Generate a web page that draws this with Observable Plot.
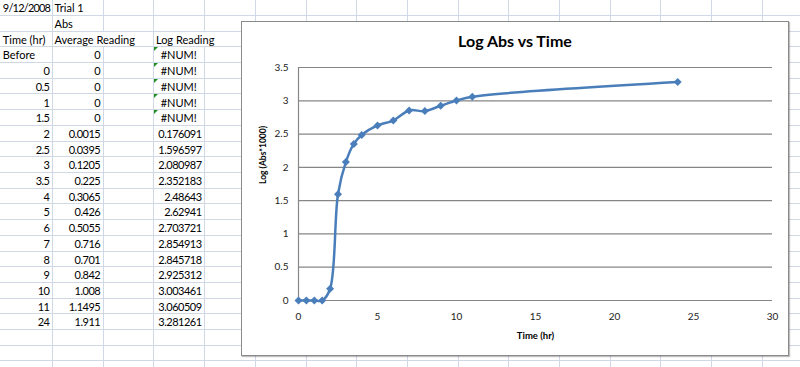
<!DOCTYPE html>
<html><head><meta charset="utf-8">
<script src="https://cdn.jsdelivr.net/npm/d3@7"></script>
<script src="https://cdn.jsdelivr.net/npm/@observablehq/plot@0.6"></script>
<style>
html,body{margin:0;padding:0;background:#fff;}
body{width:800px;height:367px;overflow:hidden;position:relative;font-family:Lato,"Liberation Sans",sans-serif;}
.cell{position:absolute;font-size:11px;color:#000;white-space:nowrap;line-height:14px;}
.num{letter-spacing:-0.5px;}
.date{letter-spacing:-0.8px;}
#chart{position:absolute;left:241px;top:21px;width:548px;height:335px;border:1px solid #8a8a8a;box-sizing:border-box;background:#fff;box-shadow:1px 1px 1px rgba(0,0,0,0.25);}
#chart svg{position:absolute;left:0;top:0;}
#title{position:absolute;left:0;top:9px;width:546px;text-align:center;font:bold 16px Lato,"Liberation Sans",sans-serif;color:#000;}
</style></head><body>
<svg id="grid" width="800" height="367" style="position:absolute;left:0;top:0"></svg>
<div id="cells"></div>
<div id="chart"><div id="title">Log Abs vs Time</div></div>
<script>
// ---- spreadsheet data ----
const dateLabel = "9/12/2008";
const trialLabel = "Trial 1";
const absLabel = "Abs";
const colHeaders = ["Time (hr)", "Average Reading", "Log Reading"];
const timeLabels = ["Before", "0", "0.5", "1", "1.5", "2", "2.5", "3", "3.5", "4", "5", "6", "7", "8", "9", "10", "11", "24"];
const avgReading = ["0", "0", "0", "0", "0", "0.0015", "0.0395", "0.1205", "0.225", "0.3065", "0.426", "0.5055", "0.716", "0.701", "0.842", "1.008", "1.1495", "1.911"];
const logReading = ["#NUM!", "#NUM!", "#NUM!", "#NUM!", "#NUM!", "0.176091", "1.596597", "2.080987", "2.352183", "2.48643", "2.62941", "2.703721", "2.854913", "2.845718", "2.925312", "3.003461", "3.060509", "3.281261"];

// ---- chart series (Excel plots #NUM! as 0; "Before" row not in series) ----
const chartTime = [0, 0.5, 1, 1.5, 2, 2.5, 3, 3.5, 4, 5, 6, 7, 8, 9, 10, 11, 24];
const chartLog = [0, 0, 0, 0, 0.176091, 1.596597, 2.080987, 2.352183, 2.48643, 2.62941, 2.703721, 2.854913, 2.845718, 2.925312, 3.003461, 3.060509, 3.281261];
const xTicks = [0, 5, 10, 15, 20, 25, 30];
const yTicks = [0, 0.5, 1, 1.5, 2, 2.5, 3, 3.5];

// ---- spreadsheet grid ----
const colW = 50.7, col0 = 52 - 50.7; // column left edges
const rowH = 15.7, row0 = 15 - 15.7;  // row top edges
const colLeft = c => col0 + c * colW;
const rowTop = r => row0 + r * rowH;
const grid = d3.select("#grid");
const gridColor = "#d0d7e5";
for (let r = 1; r <= 23; r++) {
  const y = Math.round(rowTop(r)) + 0.5;
  grid.append("line").attr("x1", 0).attr("x2", 800).attr("y1", y).attr("y2", y).attr("stroke", gridColor);
}
for (let c = 1; c <= 16; c++) {
  const x = Math.round(colLeft(c)) + 0.5;
  const skip = (c === 2 || c === 4);
  if (skip) {
    grid.append("line").attr("x1", x).attr("x2", x).attr("y1", 0).attr("y2", rowTop(2)).attr("stroke", gridColor);
    grid.append("line").attr("x1", x).attr("x2", x).attr("y1", rowTop(3)).attr("y2", 367).attr("stroke", gridColor);
  } else {
    grid.append("line").attr("x1", x).attr("x2", x).attr("y1", 0).attr("y2", 367).attr("stroke", gridColor);
  }
}

const cells = d3.select("#cells");
function cell(text, c, r, align, cls) {
  const d = cells.append("div").attr("class", "cell" + (cls ? " " + cls : "")).text(text);
  const top = rowTop(r) + 2;
  if (align === "left") d.style("left", (colLeft(c) + (c === 0 ? 1.5 : 2.5)) + "px").style("top", top + "px");
  else if (align === "right") d.style("left", (colLeft(c)) + "px").style("width", (colW - 2.5) + "px").style("text-align", "right").style("top", top + "px");
  else d.style("left", colLeft(c) + "px").style("width", colW + "px").style("text-align", "center").style("top", top + "px");
}
cell(dateLabel, 0, 0, "left", "date");
cell(trialLabel, 1, 0, "left");
cell(absLabel, 1, 1, "left");
cell(colHeaders[0], 0, 2, "left");
cell(colHeaders[1], 1, 2, "left");
cell(colHeaders[2], 3, 2, "left");
timeLabels.forEach((t, i) => {
  const r = 3 + i;
  const isNum = !isNaN(+t);
  cell(t, 0, r, isNum ? "right" : "left", isNum ? "num" : "");
  cell(avgReading[i], 1, r, "right", "num");
  const v = logReading[i];
  if (v === "#NUM!") {
    cell(v, 3, r, "center");
    const x = Math.round(colLeft(3)) + 1, y = Math.round(rowTop(r)) + 1;
    grid.append("path").attr("d", `M${x},${y}h4l-4,4z`).attr("fill", "#1f8f1f");
  } else cell(v, 3, r, "right", "num");
});

// ---- chart ----
const series = chartTime.map((t, i) => ({t, v: chartLog[i]}));
const axisColor = "#868686";
const plot = Plot.plot({
  width: 546, height: 333,
  marginLeft: 56, marginRight: 16, marginTop: 45, marginBottom: 55,
  style: {fontFamily: "Lato, 'Liberation Sans', sans-serif", fontSize: "10px", color: "#222", background: "transparent", overflow: "visible"},
  x: {domain: [0, 30], ticks: xTicks, tickSize: 0, tickPadding: 12, label: null},
  y: {domain: [0, 3.5], ticks: yTicks, tickSize: 0, tickPadding: 10, label: null, tickFormat: d => String(d)},
  marks: [
    Plot.ruleY(yTicks, {stroke: axisColor, strokeWidth: 1.2}),
    Plot.ruleX([0], {stroke: axisColor, strokeWidth: 1.2}),
    Plot.line(series, {x: "t", y: "v", curve: "catmull-rom", stroke: "#4a7ebb", strokeWidth: 2.5}),
    Plot.dot(series, {x: "t", y: "v", symbol: "diamond2", r: 3.6, fill: "#4a7ebb", stroke: "none"}),
    Plot.text(["Log (Abs*1000)"], {frameAnchor: "left", rotate: -90, dx: -35, fontWeight: "bold", fontSize: 8.5, fill: "#000"}),
    Plot.text(["Time (hr)"], {frameAnchor: "bottom", dy: 38, fontWeight: "bold", fontSize: 9.5, fill: "#000"})
  ]
});
document.getElementById("chart").appendChild(plot);
</script>
</body></html>
